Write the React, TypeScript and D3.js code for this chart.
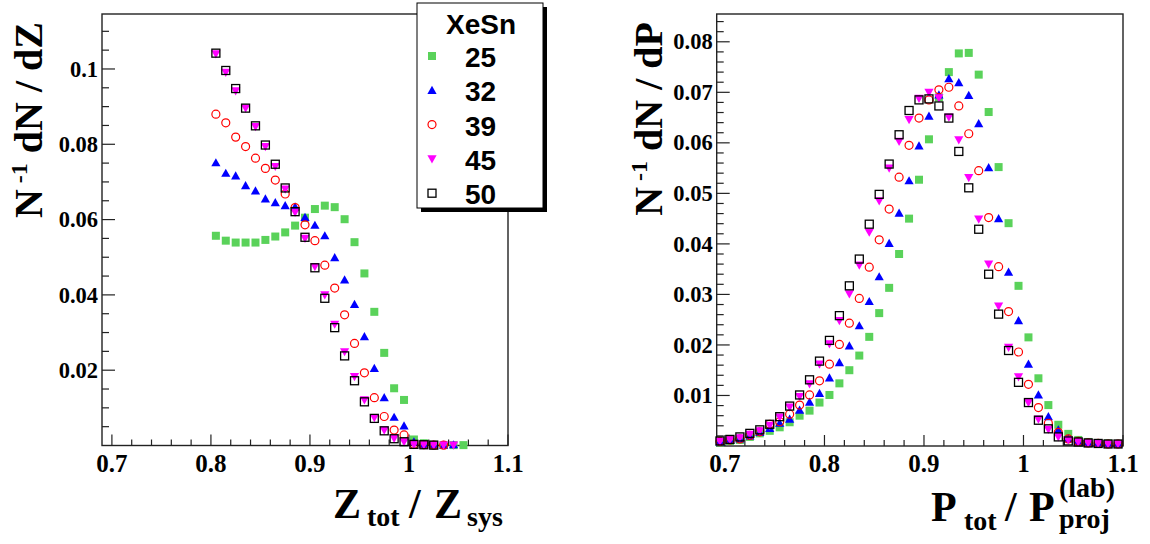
import React from "react";
import * as d3 from "d3";

// ---------------- DATA ----------------
const seriesNames = ["25", "32", "39", "45", "50"];
const seriesColors = ["#5ad25a", "#0000ff", "#ff0000", "#ff00ff", "#000000"];
const seriesMarkers = ["square", "tri", "circle", "tridown", "opensquare"];

const leftBins = [0.805, 0.815, 0.825, 0.835, 0.845, 0.855, 0.865, 0.875, 0.885, 0.895, 0.905, 0.915, 0.925, 0.935, 0.945, 0.955, 0.965, 0.975, 0.985, 0.995, 1.005, 1.015, 1.025, 1.035, 1.045, 1.055];
const left25 = [0.0557, 0.0544, 0.0539, 0.0539, 0.0539, 0.0546, 0.0555, 0.0566, 0.0584, 0.0605, 0.0628, 0.0637, 0.0633, 0.0601, 0.0540, 0.0457, 0.0355, 0.0246, 0.0152, 0.0121, 0.0016, 0.0006, 0.0002, 0.0001, 0.0001, 0.0001];
const left32 = [0.0751, 0.0723, 0.0716, 0.0690, 0.0676, 0.0655, 0.0645, 0.0637, 0.0634, 0.0606, 0.0585, 0.0557, 0.0499, 0.0440, 0.0375, 0.0289, 0.0205, 0.0127, 0.0075, 0.0052, 0.0010, 0.0003, 0.0002, 0.0001, 0.0002];
const left39 = [0.0880, 0.0857, 0.0819, 0.0794, 0.0763, 0.0736, 0.0705, 0.0668, 0.0632, 0.0586, 0.0544, 0.0479, 0.0418, 0.0347, 0.0271, 0.0193, 0.0127, 0.0077, 0.0041, 0.0028, 0.0003, 0.0002, 0.0001, 0.0001];
const left45 = [0.1040, 0.0991, 0.0942, 0.0896, 0.0847, 0.0794, 0.0741, 0.0681, 0.0619, 0.0550, 0.0475, 0.0400, 0.0322, 0.0249, 0.0183, 0.0121, 0.0074, 0.0041, 0.0019, 0.0010, 0.0002, 0.0002, 0.0001, 0.0001, 0.0001];
const left50 = [0.1042, 0.0996, 0.0948, 0.0896, 0.0849, 0.0798, 0.0747, 0.0684, 0.0621, 0.0553, 0.0472, 0.0391, 0.0313, 0.0238, 0.0172, 0.0116, 0.0072, 0.0039, 0.0018, 0.0010, 0.0003, 0.0002, 0.0001];

const rightBins = [0.695, 0.705, 0.715, 0.725, 0.735, 0.745, 0.755, 0.765, 0.775, 0.785, 0.795, 0.805, 0.815, 0.825, 0.835, 0.845, 0.855, 0.865, 0.875, 0.885, 0.895, 0.905, 0.915, 0.925, 0.935, 0.945, 0.955, 0.965, 0.975, 0.985, 0.995, 1.005, 1.015, 1.025, 1.035, 1.045, 1.055, 1.065, 1.075, 1.085, 1.095];
const right25 = [0.0007, 0.0010, 0.0012, 0.0018, 0.0025, 0.0030, 0.0037, 0.0047, 0.0060, 0.0070, 0.0086, 0.0101, 0.0124, 0.0150, 0.0179, 0.0216, 0.0263, 0.0313, 0.0380, 0.0450, 0.0527, 0.0607, 0.0690, 0.0740, 0.0777, 0.0778, 0.0735, 0.0661, 0.0552, 0.0441, 0.0317, 0.0215, 0.0134, 0.0081, 0.0042, 0.0024, 0.0012, 0.0008, 0.0006, 0.0005, 0.0004];
const right32 = [0.0008, 0.0011, 0.0014, 0.0020, 0.0027, 0.0035, 0.0045, 0.0053, 0.0071, 0.0087, 0.0104, 0.0135, 0.0165, 0.0198, 0.0238, 0.0286, 0.0335, 0.0401, 0.0461, 0.0525, 0.0594, 0.0653, 0.0695, 0.0727, 0.0719, 0.0694, 0.0638, 0.0551, 0.0450, 0.0344, 0.0248, 0.0162, 0.0101, 0.0058, 0.0032, 0.0014, 0.0009, 0.0006, 0.0005, 0.0004, 0.0004];
const right39 = [0.0009, 0.0012, 0.0014, 0.0021, 0.0028, 0.0043, 0.0048, 0.0063, 0.0081, 0.0101, 0.0129, 0.0162, 0.0201, 0.0243, 0.0292, 0.0354, 0.0408, 0.0469, 0.0532, 0.0595, 0.0649, 0.0685, 0.0705, 0.0710, 0.0673, 0.0618, 0.0545, 0.0452, 0.0355, 0.0266, 0.0186, 0.0122, 0.0076, 0.0045, 0.0027, 0.0014, 0.0009, 0.0006, 0.0005, 0.0004, 0.0004];
const right45 = [0.0009, 0.0012, 0.0016, 0.0023, 0.0030, 0.0041, 0.0057, 0.0077, 0.0098, 0.0123, 0.0162, 0.0202, 0.0248, 0.0301, 0.0358, 0.0423, 0.0485, 0.0550, 0.0603, 0.0646, 0.0688, 0.0700, 0.0689, 0.0651, 0.0606, 0.0531, 0.0449, 0.0360, 0.0277, 0.0195, 0.0137, 0.0086, 0.0053, 0.0033, 0.0018, 0.0012, 0.0008, 0.0006, 0.0005, 0.0004, 0.0004];
const right50 = [0.0010, 0.0013, 0.0018, 0.0025, 0.0032, 0.0043, 0.0058, 0.0079, 0.0101, 0.0131, 0.0168, 0.0209, 0.0258, 0.0317, 0.0370, 0.0439, 0.0498, 0.0558, 0.0616, 0.0664, 0.0685, 0.0687, 0.0673, 0.0649, 0.0583, 0.0511, 0.0429, 0.0340, 0.0261, 0.0189, 0.0126, 0.0086, 0.0051, 0.0034, 0.0018, 0.0010, 0.0008, 0.0006, 0.0005, 0.0004, 0.0004];

const xTicks = [0.7, 0.8, 0.9, 1.0, 1.1];
const xTickLabels = ["0.7", "0.8", "0.9", "1", "1.1"];
const leftYTicks = [0.02, 0.04, 0.06, 0.08, 0.1];
const leftYTickLabels = ["0.02", "0.04", "0.06", "0.08", "0.1"];
const rightYTicks = [0.01, 0.02, 0.03, 0.04, 0.05, 0.06, 0.07, 0.08];
const rightYTickLabels = ["0.01", "0.02", "0.03", "0.04", "0.05", "0.06", "0.07", "0.08"];

const SERIF = "'Liberation Serif', 'Times New Roman', serif";
const SANS = "'Liberation Sans', Arial, Helvetica, sans-serif";

function Marker({ type, x, y, color }) {
  if (type === "square")
    return <rect x={x - 4} y={y - 4} width={8} height={8} fill={color} />;
  if (type === "opensquare")
    return <rect x={x - 4} y={y - 4} width={8} height={8} fill="none" stroke={color} strokeWidth={1.3} />;
  if (type === "circle")
    return <circle cx={x} cy={y} r={4} fill="none" stroke={color} strokeWidth={1.2} />;
  if (type === "tri")
    return <path d={`M${x - 4.6},${y + 3.6}L${x + 4.6},${y + 3.6}L${x},${y - 4.6}Z`} fill={color} />;
  return <path d={`M${x - 4.6},${y - 3.6}L${x + 4.6},${y - 3.6}L${x},${y + 4.6}Z`} fill={color} />;
}

function Panel({ xDomain, xRange, yDomain, yRange, yTicks, yTickLabels, yMinorStep, bins, series, yLabelX, yTitleLast }) {
  const x = d3.scaleLinear().domain(xDomain).range(xRange);
  const y = d3.scaleLinear().domain(yDomain).range(yRange);
  const [x0, x1] = xRange;
  const [yb, yt] = yRange;
  const xMinor = d3.range(0.7, 1.1001, 0.02).filter((v) => !xTicks.some((t) => Math.abs(t - v) < 1e-6));
  const yMinor = d3.range(yMinorStep, yDomain[1], yMinorStep).filter((v) => !yTicks.some((t) => Math.abs(t - v) < 1e-6));
  const axisColor = "#222";
  return (
    <g>
      <rect x={x0} y={yt} width={x1 - x0} height={yb - yt} fill="none" stroke={axisColor} strokeWidth={1.4} />
      {xTicks.map((t, i) => (
        <g key={"xt" + i}>
          <line x1={x(t)} x2={x(t)} y1={yb} y2={yb - 11} stroke={axisColor} strokeWidth={1.2} />
          <text x={x(t)} y={yb + 26} textAnchor="middle" fontFamily={SERIF} fontWeight="bold" fontSize={25} fill="#000">
            {xTickLabels[i]}
          </text>
        </g>
      ))}
      {xMinor.map((t, i) => (
        <line key={"xm" + i} x1={x(t)} x2={x(t)} y1={yb} y2={yb - 6} stroke={axisColor} strokeWidth={1.2} />
      ))}
      {yTicks.map((t, i) => (
        <g key={"yt" + i}>
          <line x1={x0} x2={x0 + 13} y1={y(t)} y2={y(t)} stroke={axisColor} strokeWidth={1.2} />
          <text x={x0 - 4} y={y(t)} dy="0.34em" textAnchor="end" fontFamily={SERIF} fontWeight="bold" fontSize={22.5} fill="#000">
            {yTickLabels[i]}
          </text>
        </g>
      ))}
      {yMinor.map((t, i) => (
        <line key={"ym" + i} x1={x0} x2={x0 + 7} y1={y(t)} y2={y(t)} stroke={axisColor} strokeWidth={1.2} />
      ))}
      <text transform={`translate(${yLabelX},22) rotate(-90)`} textAnchor="end" fontFamily={SERIF} fontWeight="bold" fontSize={40} fill="#000">
        <tspan>N</tspan>
        <tspan fontSize={24} dy={-15}>{"\u00A0-1"}</tspan>
        <tspan dy={15}>{"\u00A0dN / d" + yTitleLast}</tspan>
      </text>
      {series.map((vals, si) => (
        <g key={"s" + si}>
          {vals.map((v, i) => (
            <Marker key={i} type={seriesMarkers[si]} x={x(bins[i])} y={y(v)} color={seriesColors[si]} />
          ))}
        </g>
      ))}
    </g>
  );
}

export default function App() {
  const legendX = 417, legendY = 3, legendW = 126, legendH = 205;
  const legendRows = d3.range(seriesNames.length);
  return (
    <div style={{ position: "absolute", left: 0, top: 0 }}>
      <svg width={1150} height={544} style={{ display: "block", background: "#fff" }}>
        <rect x={0} y={0} width={1150} height={544} fill="#fff" />
        <Panel
          xDomain={[0.69, 1.1]}
          xRange={[102, 508]}
          yDomain={[0, 0.1146]}
          yRange={[445.5, 14]}
          yTicks={leftYTicks}
          yTickLabels={leftYTickLabels}
          yMinorStep={0.005}
          bins={leftBins}
          series={[left25, left32, left39, left45, left50]}
          yLabelX={42}
          yTitleLast="Z"
        />
        <Panel
          xDomain={[0.6917, 1.1]}
          xRange={[716.7, 1123]}
          yDomain={[0, 0.0855]}
          yRange={[446, 14]}
          yTicks={rightYTicks}
          yTickLabels={rightYTickLabels}
          yMinorStep={0.002}
          bins={rightBins}
          series={[right25, right32, right39, right45, right50]}
          yLabelX={662}
          yTitleLast="P"
        />
        {/* x titles */}
        <g fontFamily={SERIF} fontWeight="bold" fill="#000">
          <text x={333} y={518} fontSize={42}>Z</text>
          <text x={367} y={526} fontSize={28}>tot</text>
          <text x={409} y={518} fontSize={42}>/</text>
          <text x={434} y={518} fontSize={42}>Z</text>
          <text x={467} y={526} fontSize={28}>sys</text>

          <text x={931} y={521} fontSize={42}>P</text>
          <text x={964} y={530} fontSize={28}>tot</text>
          <text x={1005} y={521} fontSize={42}>/</text>
          <text x={1029} y={521} fontSize={42}>P</text>
          <text x={1059} y={497} fontSize={28}>(lab)</text>
          <text x={1059} y={528} fontSize={28}>proj</text>
        </g>
        {/* legend */}
        <rect x={legendX + 4} y={legendY + 4} width={legendW} height={legendH} fill="#000" />
        <rect x={legendX} y={legendY} width={legendW} height={legendH} fill="#fff" stroke="#000" strokeWidth={1} />
        <text x={481} y={34} textAnchor="middle" fontFamily={SANS} fontWeight="bold" fontSize={28} fill="#000">XeSn</text>
        {legendRows.map((i) => (
          <g key={"lg" + i}>
            <Marker type={seriesMarkers[i]} x={432} y={56 + i * 34.3} color={seriesColors[i]} />
            <text x={465} y={67 + i * 34.3} fontFamily={SANS} fontWeight="bold" fontSize={28} fill="#000">
              {seriesNames[i]}
            </text>
          </g>
        ))}
      </svg>
    </div>
  );
}
